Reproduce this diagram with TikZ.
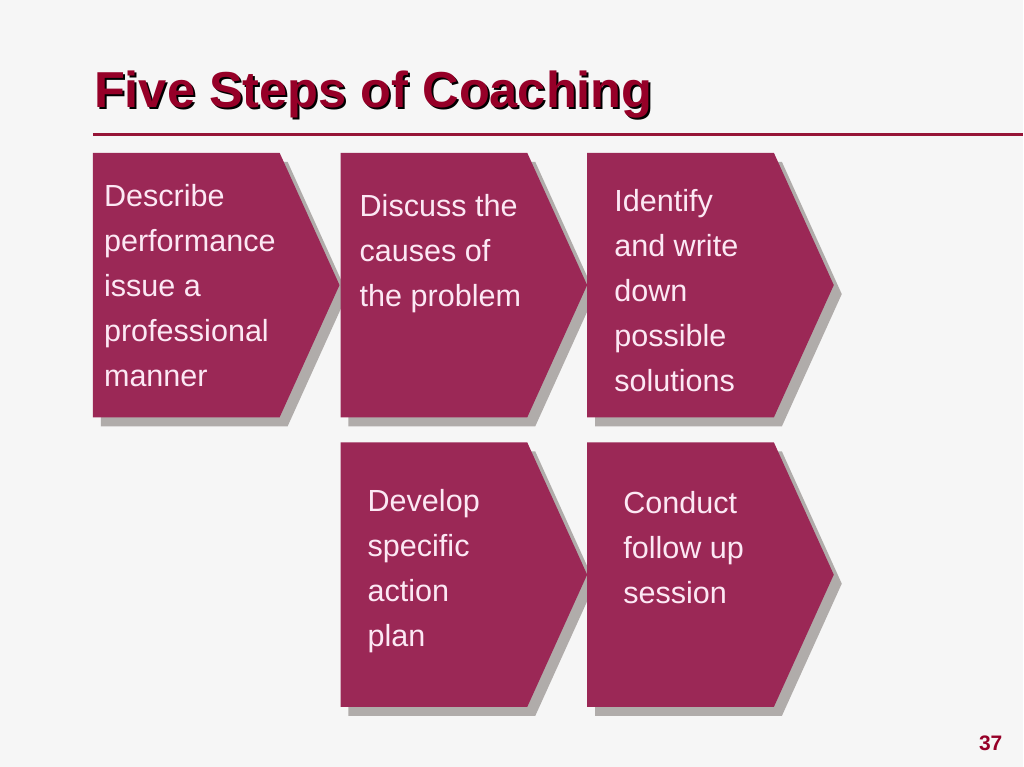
\documentclass[tikz,border=0pt]{standalone}
\usepackage{fontspec}
\setmainfont{Liberation Sans}
\usetikzlibrary{positioning}
\definecolor{slidebg}{RGB}{246,246,246}
\definecolor{stepfill}{RGB}{155,40,86}
\definecolor{steptext}{RGB}{252,232,244}
\definecolor{stepshadow}{RGB}{176,172,170}
\definecolor{titlered}{RGB}{150,0,40}
\definecolor{rulered}{RGB}{150,20,55}

\tikzset{
  steplabel/.style={anchor=base west, inner sep=0pt, align=left, text=steptext,
    font=\fontsize{30.6}{45}\selectfont},
  titletext/.style={anchor=base west, inner sep=0pt, font=\bfseries\fontsize{50.6}{60}\selectfont}
}

% chevron with its drop shadow, #1,#2 = top left corner
\newcommand{\stepchevron}[2]{
  \fill[stepshadow] (#1+8,#2+9) -- ++(187,0) -- ++(60,132.5) -- ++(-60,132.5) -- ++(-187,0) -- cycle;
  \fill[stepfill] (#1,#2) -- ++(187,0) -- ++(60,132.5) -- ++(-60,132.5) -- ++(-187,0) -- cycle;
}

\begin{document}
\begin{tikzpicture}[x=1pt,y=-1pt]
   \fill[slidebg] (0,0) rectangle (1024,768);
   % title and rule
   \node[titletext, text=black] (title_shadow) at (96,110) {Five Steps of Coaching};
   \node[titletext, text=titlered] (title) at (94,108) {Five Steps of Coaching};
   \draw[rulered, line width=3pt] (93,135) -- (1024,135);
   % the five steps (labels placed at their last baseline)
   \stepchevron{93}{153}
   \stepchevron{341}{153}
   \stepchevron{588}{153}
   \stepchevron{341}{443}
   \stepchevron{588}{443}
   \node[steplabel] (s_1) at (104,387) {Describe\\performance\\issue a\\professional\\manner};
   \node[steplabel] (s_2) at (360,307) {Discuss the\\causes of\\the problem};
   \node[steplabel] (s_3) at (615,392) {Identify\\and write\\down\\possible\\solutions};
   \node[steplabel] (s_4) at (368,647) {Develop\\specific\\action\\plan};
   \node[steplabel] (s_5) at (624,604) {Conduct\\follow up\\session};
   % page number
   \node[anchor=base east, inner sep=0pt, text=titlered, font=\bfseries\fontsize{21}{25}\selectfont] (page) at (1004,752) {37};
\end{tikzpicture}
\end{document}
